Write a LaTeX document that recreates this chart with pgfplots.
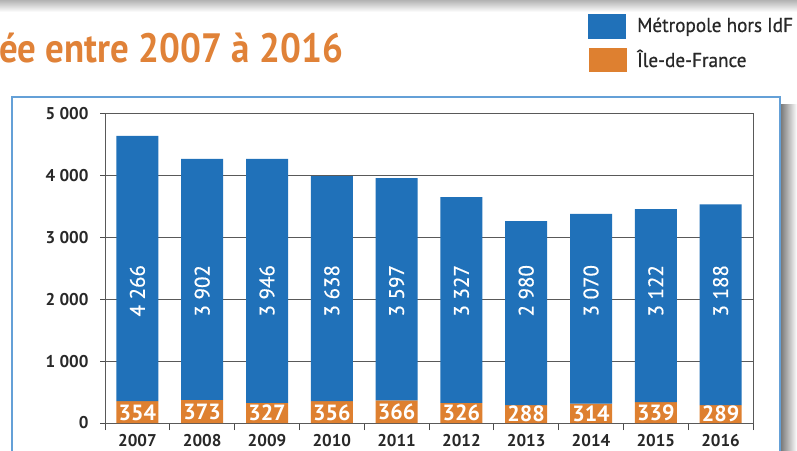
\documentclass[border=0pt]{standalone}
\usepackage{pgfplots}
\pgfplotsset{compat=1.18}
\usepackage{fontspec}
\setmainfont{PT Sans}
\newfontfamily\condfont[FakeStretch=0.9]{PT Sans}
\newfontfamily\legfont[FakeStretch=0.96, FakeBold=0.6]{PT Sans}
\newfontfamily\labfont[FakeBold=0.5]{PT Sans}
\definecolor{barblue}{RGB}{32,113,185}
\definecolor{barorange}{RGB}{222,128,48}
\definecolor{titleorange}{RGB}{224,130,56}
\definecolor{txt}{RGB}{40,40,40}
\definecolor{framebl}{RGB}{100,160,215}
\tikzset{olab/.style={text=white, inner sep=0, font=\bfseries\fontsize{22}{24}\selectfont},
         blab/.style={text=white, inner sep=0, rotate=90, font=\labfont\fontsize{21}{22}\selectfont}}
\begin{document}
\begin{tikzpicture}
\useasboundingbox (0pt,0pt) rectangle (797pt,450pt);
\begin{scope}[x=1pt,y=1pt]
% top shadow
\shade[top color=black!30, bottom color=white] (0,438) rectangle (797,450);
% title
\node[anchor=base west, inner sep=0, text=titleorange, font=\condfont\bfseries\fontsize{41}{48}\selectfont] at (-1,387) {ée entre 2007 à 2016};
% legend
\fill[barblue] (588,411) rectangle (626,436);
\fill[barorange] (589,378) rectangle (627,402);
\node[anchor=base west, inner sep=0, text=txt, font=\legfont\fontsize{20}{22}\selectfont] at (637,418) {Métropole hors IdF};
\node[anchor=base west, inner sep=0, text=txt, font=\legfont\fontsize{20}{22}\selectfont] at (637,383) {Île-de-France};
% frame and shadow
\shade[left color=black!55, right color=white] (780,-5) rectangle (797,345);
\fill[white] (12,-5) rectangle (780,353);
\draw[framebl, line width=1.2pt] (12,-5) rectangle (780,353);
\end{scope}
\begin{axis}[
  at={(105pt,27pt)}, anchor=south west,
  scale only axis, width=648pt, height=309pt,
  ybar stacked, bar width=42pt, reverse stacked plots=false,
  xmin=-0.5, xmax=9.5, ymin=0, ymax=5000,
  xtick={0,...,9},
  xticklabels={2007,2008,2009,2010,2011,2012,2013,2014,2015,2016},
  minor xtick={-0.5,0.5,...,9.5},
  ytick={0,1000,2000,3000,4000,5000},
  yticklabels={0,1 000,2 000,3 000,4 000,5 000},
  tick pos=left, tick align=outside,
  major tick length=5pt, minor tick length=7pt,
  xtick style={draw=none},
  minor x tick style={draw=black!70, line width=1pt},
  ytick style={draw=black!70, line width=1pt},
  ymajorgrids, major grid style={draw=black!65, line width=1pt},
  axis line style={draw=black!65, line width=1pt},
  x tick label style={font=\bfseries\fontsize{17}{20}\selectfont, text=txt, yshift=-3pt},
  y tick label style={font=\bfseries\fontsize{17}{20}\selectfont, text=txt, xshift=-8pt},
  /pgf/number format/assume math mode=true,
  clip=false,
]
\addplot[fill=barorange, draw=none] coordinates {(0,354) (1,373) (2,327) (3,356) (4,366) (5,326) (6,288) (7,314) (8,339) (9,289)};
\addplot[fill=barblue, draw=none] coordinates {(0,4290) (1,3902) (2,3946) (3,3638) (4,3597) (5,3327) (6,2980) (7,3070) (8,3122) (9,3250)};
\node[olab] at (axis cs:0,170) {354};
\node[olab] at (axis cs:1,178) {373};
\node[olab] at (axis cs:2,160) {327};
\node[olab] at (axis cs:3,172) {356};
\node[olab] at (axis cs:4,176) {366};
\node[olab] at (axis cs:5,160) {326};
\node[olab] at (axis cs:6,148) {288};
\node[olab] at (axis cs:7,156) {314};
\node[olab] at (axis cs:8,166) {339};
\node[olab] at (axis cs:9,148) {289};
\node[blab] at (axis cs:0,2140) {4 266};
\node[blab] at (axis cs:1,2140) {3 902};
\node[blab] at (axis cs:2,2140) {3 946};
\node[blab] at (axis cs:3,2140) {3 638};
\node[blab] at (axis cs:4,2140) {3 597};
\node[blab] at (axis cs:5,2140) {3 327};
\node[blab] at (axis cs:6,2140) {2 980};
\node[blab] at (axis cs:7,2140) {3 070};
\node[blab] at (axis cs:8,2140) {3 122};
\node[blab] at (axis cs:9,2140) {3 188};
\end{axis}
\end{tikzpicture}
\end{document}
